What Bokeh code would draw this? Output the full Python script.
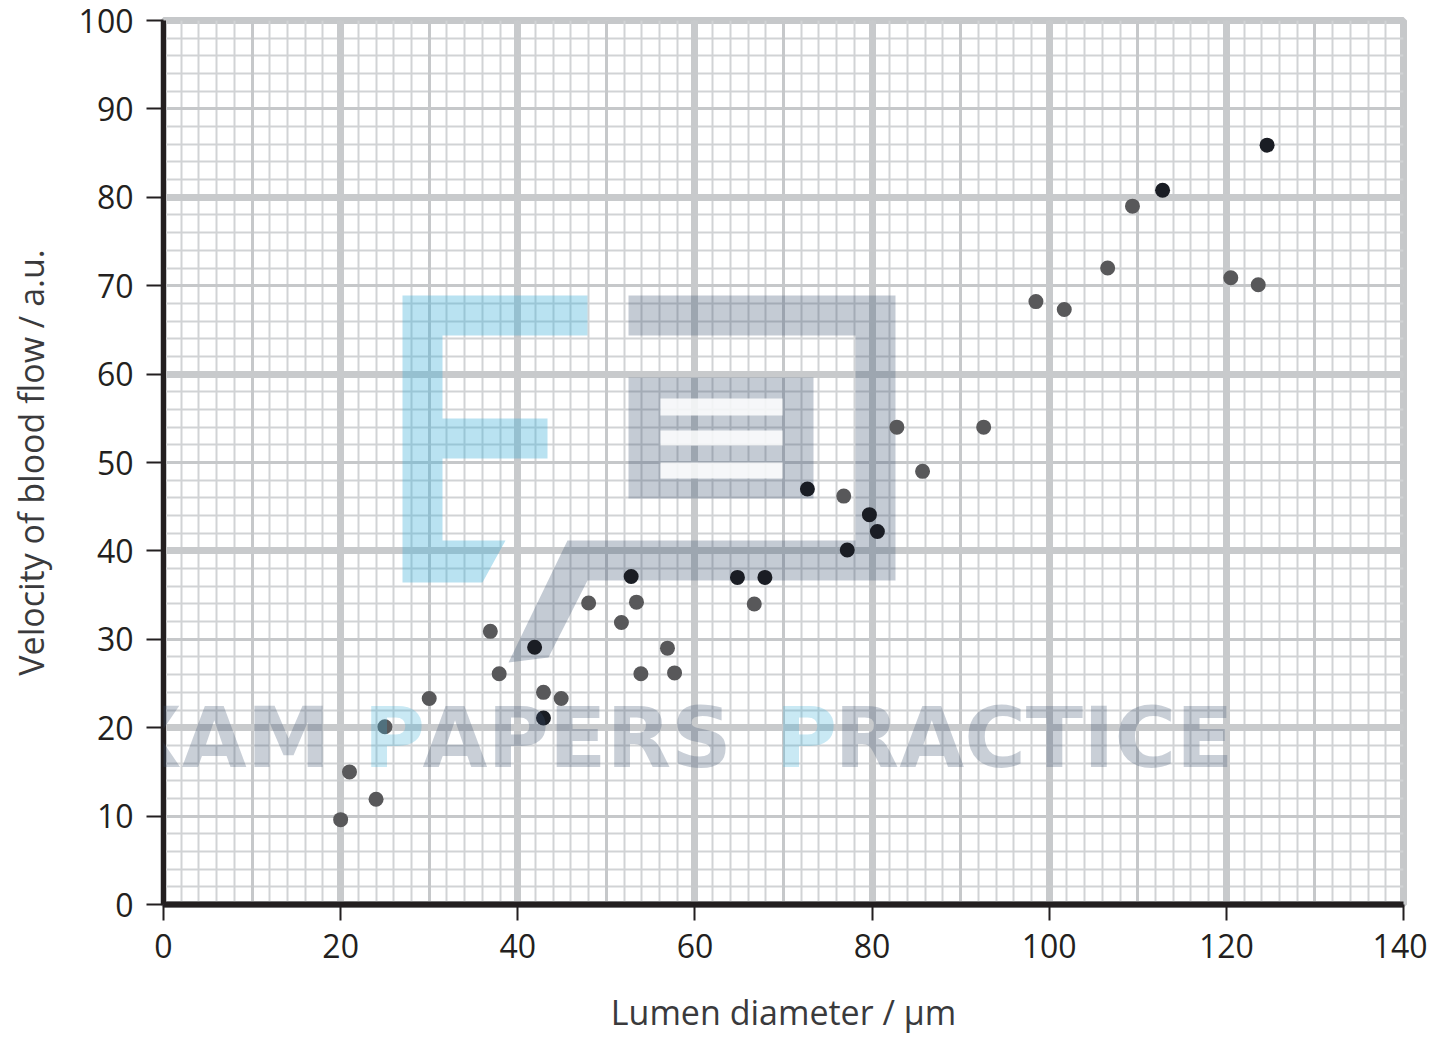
from bokeh.plotting import figure
from bokeh.models import Grid, SingleIntervalTicker, Label
from bokeh.embed import file_html
from bokeh.resources import INLINE

# Data: lumen diameter (µm) vs velocity of blood flow (a.u.)
gray_x = [20, 21, 24, 25, 30, 36.9, 37.9, 42.9, 44.9, 48, 51.7, 53.4, 53.9,
          56.9, 57.7, 66.7, 76.8, 82.8, 85.7, 92.6, 98.5, 101.7, 106.6, 109.4,
          120.5, 123.6]
gray_y = [9.6, 15.0, 11.9, 20.1, 23.3, 30.9, 26.1, 24.0, 23.3, 34.1, 31.9, 34.2,
          26.1, 29.0, 26.2, 34.0, 46.2, 54.0, 49.0, 54.0, 68.2, 67.3, 72.0, 79.0,
          70.9, 70.1]
dark_x = [41.9, 42.9, 52.8, 64.8, 67.9, 72.7, 77.2, 79.7, 80.6, 112.8, 124.6]
dark_y = [29.1, 21.1, 37.1, 37.0, 37.0, 47.0, 40.1, 44.1, 42.2, 80.8, 85.9]

x_ticks = [0, 20, 40, 60, 80, 100, 120, 140]
y_ticks = [0, 10, 20, 30, 40, 50, 60, 70, 80, 90, 100]

FONT = "Open Sans"
INK = "#231f20"
FL, FT, FW, FH = 163, 20, 1240, 884   # frame left/top/width/height in page px

p = figure(frame_width=FW, frame_height=FH, min_border_left=FL,
           min_border_top=FT, min_border_right=24, min_border_bottom=128,
           x_range=(0, 140), y_range=(0, 100), output_backend="svg",
           toolbar_location=None, background_fill_color="white",
           border_fill_color="white")
p.xgrid.visible = False
p.ygrid.visible = False
p.outline_line_color = "#c6c8ca"
p.outline_line_width = 7

for interval, width, color in [(2, 2, "#d1d3d5"), (10, 3, "#c6c8ca"), (20, 7, "#c8cacc")]:
    for dim in (0, 1):
        p.add_layout(Grid(dimension=dim, ticker=SingleIntervalTicker(interval=interval),
                          grid_line_color=color, grid_line_width=width))

# watermark logo (decorative)
def px2x(v):
    return (v - FL) / (FW / 140)

def py2y(v):
    return (FT + FH - v) / (FH / 100)

E_shape = [(402, 295), (587, 295), (587, 335), (442, 335), (442, 418), (547, 418),
           (547, 458), (442, 458), (442, 540), (505, 540), (482, 582), (402, 582)]
frame_shape = [(628, 295), (895, 295), (895, 580), (587, 580), (548, 657), (508, 662),
               (567, 540), (855, 540), (855, 335), (628, 335)]
p.patch([px2x(a) for a, b in E_shape], [py2y(b) for a, b in E_shape],
        fill_color="#3cb0d8", fill_alpha=0.36, line_color=None)
p.patch([px2x(a) for a, b in frame_shape], [py2y(b) for a, b in frame_shape],
        fill_color="#3d5470", fill_alpha=0.3, line_color=None)
box_l, box_r, box_t, box_b = 628, 813, 377, 498
p.quad(left=[px2x(box_l)], right=[px2x(box_r)], top=[py2y(box_t)], bottom=[py2y(box_b)],
       fill_color="#3d5470", fill_alpha=0.3, line_color=None)
stripes = [(398, 415), (430, 445), (462, 478)]
p.quad(left=[px2x(660)] * 3, right=[px2x(782)] * 3,
       top=[py2y(a) for a, b in stripes], bottom=[py2y(b) for a, b in stripes],
       fill_color="white", fill_alpha=0.85, line_color=None)

p.scatter(gray_x, gray_y, size=15, fill_color="#58585a", line_color=None)
p.scatter(dark_x, dark_y, size=15, fill_color="#1a1d24", line_color=None)

# watermark text (screen units, relative to frame bottom-left)
BASE = 737
wm = [("EXAM", 59, "#3d5470"), ("P", 363, "#3cb0d8"),
      ("APERS", 422, "#3d5470"), ("P", 775, "#3cb0d8"), ("RACTICE", 834, "#3d5470")]
for txt, xpx, col in wm:
    p.add_layout(Label(x=xpx - FL, y=FT + FH - BASE, x_units="screen", y_units="screen",
                       text=txt, text_font="DejaVu Sans",
                       text_font_style="bold", text_font_size="84px", text_color=col,
                       text_alpha=0.28, text_baseline="alphabetic", text_align="left"))

for ax in (p.xaxis[0], p.yaxis[0]):
    ax.axis_line_color = INK
    ax.major_tick_line_color = INK
    ax.major_tick_line_width = 2
    ax.major_tick_in = 0
    ax.minor_tick_line_color = None
    ax.major_label_text_font = FONT
    ax.major_label_text_font_size = "32px"
    ax.major_label_text_color = INK
    ax.axis_label_text_font = FONT
    ax.axis_label_text_font_size = "34px"
    ax.axis_label_text_font_style = "normal"
    ax.axis_label_text_color = "#3a3a3c"

p.xaxis.ticker = x_ticks
p.yaxis.ticker = y_ticks
p.xaxis.axis_line_width = 6
p.yaxis.axis_line_width = 5
p.xaxis.major_tick_out = 16
p.yaxis.major_tick_out = 17
p.xaxis.major_label_standoff = 13
p.yaxis.major_label_standoff = 13
p.xaxis.axis_label = "Lumen diameter / µm"
p.yaxis.axis_label = "Velocity of blood flow / a.u."
p.xaxis.axis_label_standoff = 28
p.yaxis.axis_label_standoff = 22

open("out.html", "w").write(file_html(p, INLINE))
